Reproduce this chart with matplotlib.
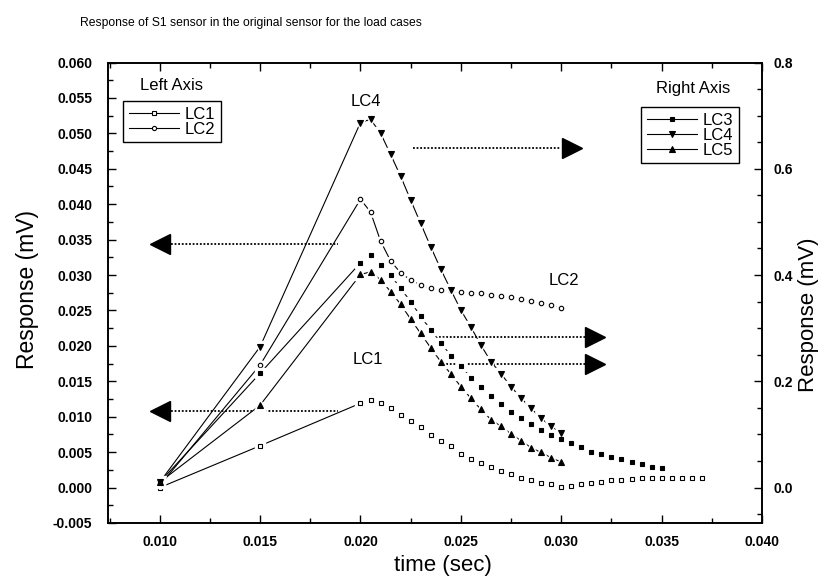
import matplotlib
matplotlib.use("Agg")
import matplotlib.pyplot as plt
from matplotlib.lines import Line2D
from matplotlib.ticker import MultipleLocator, FixedLocator

plt.rcParams['font.family'] = ['Liberation Sans', 'DejaVu Sans']

# ---------------- data ----------------
t_lc1 = [0.010, 0.015, 0.020, 0.0205, 0.021, 0.0215, 0.022, 0.0225, 0.023, 0.0235, 0.024, 0.0245,
         0.025, 0.0255, 0.026, 0.0265, 0.027, 0.0275, 0.028, 0.0285, 0.029, 0.0295, 0.030,
         0.0305, 0.031, 0.0315, 0.032, 0.0325, 0.033, 0.0335, 0.034, 0.0345, 0.035, 0.0355,
         0.036, 0.0365, 0.037]
lc1 = [0.0000, 0.0059, 0.0119, 0.0124, 0.0120, 0.0112, 0.0103, 0.0094, 0.0086, 0.0074, 0.0066,
       0.0058, 0.0048, 0.0040, 0.0034, 0.0029, 0.0024, 0.0019, 0.0014, 0.0011, 0.0007, 0.0005,
       0.0001, 0.0002, 0.0005, 0.0007, 0.0008, 0.0010, 0.0011, 0.0012, 0.0013, 0.0013, 0.0014,
       0.0014, 0.0014, 0.0014, 0.0014]

t_030 = [0.010, 0.015, 0.020, 0.0205, 0.021, 0.0215, 0.022, 0.0225, 0.023, 0.0235, 0.024, 0.0245,
         0.025, 0.0255, 0.026, 0.0265, 0.027, 0.0275, 0.028, 0.0285, 0.029, 0.0295, 0.030]
lc2 = [0.0003, 0.0173, 0.0407, 0.0389, 0.0348, 0.0320, 0.0303, 0.0293, 0.0286, 0.0281, 0.0279,
       0.0277, 0.0276, 0.0275, 0.0274, 0.0272, 0.0270, 0.0269, 0.0266, 0.0263, 0.0260, 0.0258,
       0.0253]

t_lc3 = [0.010, 0.015, 0.020, 0.0205, 0.021, 0.0215, 0.022, 0.0225, 0.023, 0.0235, 0.024, 0.0245,
         0.025, 0.0255, 0.026, 0.0265, 0.027, 0.0275, 0.028, 0.0285, 0.029, 0.0295, 0.030,
         0.0305, 0.031, 0.0315, 0.032, 0.0325, 0.033, 0.0335, 0.034, 0.0345, 0.035]
lc3 = [0.010, 0.215, 0.423, 0.438, 0.419, 0.400, 0.375, 0.350, 0.322, 0.297, 0.273, 0.248, 0.229,
       0.207, 0.189, 0.172, 0.157, 0.143, 0.130, 0.120, 0.108, 0.099, 0.091, 0.083, 0.076, 0.067,
       0.063, 0.058, 0.053, 0.048, 0.044, 0.039, 0.036]
lc4 = [0.010, 0.265, 0.687, 0.693, 0.667, 0.627, 0.586, 0.541, 0.497, 0.453, 0.411, 0.372, 0.334,
       0.302, 0.268, 0.237, 0.214, 0.190, 0.168, 0.149, 0.130, 0.116, 0.102]
lc5 = [0.010, 0.155, 0.401, 0.406, 0.391, 0.369, 0.345, 0.317, 0.290, 0.263, 0.237, 0.214, 0.190,
       0.168, 0.147, 0.128, 0.115, 0.101, 0.088, 0.075, 0.066, 0.056, 0.048]

x_ticks = [0.010, 0.015, 0.020, 0.025, 0.030, 0.035, 0.040]
x_ticklabels = ["0.010", "0.015", "0.020", "0.025", "0.030", "0.035", "0.040"]
left_ticks = [-0.005, 0.000, 0.005, 0.010, 0.015, 0.020, 0.025, 0.030, 0.035, 0.040, 0.045,
              0.050, 0.055, 0.060]
right_ticks = [0.0, 0.2, 0.4, 0.6, 0.8]

# arrow levels (left axis units for the left-pointing ones, right axis units for the others)
left_arrows_y = [0.0344, 0.0108]
right_arrows_y = [0.640, 0.283, 0.2325]

# ---------------- figure ----------------
W, H = 825, 580
fig = plt.figure(figsize=(W / 100, H / 100), dpi=100)
L, R, T, B = 107.5, 762.0, 62.5, 523.0
ax = fig.add_axes([L / W, 1 - B / H, (R - L) / W, (B - T) / H])
ax2 = ax.twinx()

ax.set_xlim(0.0074, 0.040)
ax.set_ylim(-0.005, 0.060)
ax2.set_ylim(-0.0667, 0.8)


def series(a, x, y, marker, ms, filled, lw=0.8):
    a.plot(x, y, '-', color='black', lw=lw, zorder=2)
    a.plot(x, y, ls='none', marker=marker, ms=ms + 3.5, mfc='white', mec='white', zorder=3)
    a.plot(x, y, ls='none', marker=marker, ms=ms, mfc='black' if filled else 'white',
           mec='black', mew=0.8, zorder=4)


series(ax, t_lc1, lc1, 's', 3.2, False)
series(ax, t_030, lc2, 'o', 3.2, False)
series(ax2, t_lc3, lc3, 's', 3.0, True)
series(ax2, t_030, lc4, 'v', 5.0, True)
series(ax2, t_030, lc5, '^', 5.0, True)

# dotted arrows
dot = (0, (1, 1))
for yv in left_arrows_y:
    ax.plot([0.01054, 0.0189], [yv, yv], ls=dot, color='black', lw=1.3, zorder=1)
    ax.plot([0.0100], [yv], marker='<', ms=15, color='black', ls='none', zorder=5)
ax2.plot([0.02262, 0.0300], [right_arrows_y[0]] * 2, ls=dot, color='black', lw=1.3, zorder=1)
ax2.plot([0.03055], [right_arrows_y[0]], marker='>', ms=15, color='black', ls='none', zorder=5)
for yv in right_arrows_y[1:]:
    ax2.plot([0.0239, 0.0312], [yv, yv], ls=dot, color='black', lw=1.3, zorder=1)
    ax2.plot([0.03168], [yv], marker='>', ms=15, color='black', ls='none', zorder=5)

# ticks
tick_font = dict(fontsize=10, fontweight='bold')
ax.xaxis.set_major_locator(FixedLocator(x_ticks))
ax.set_xticklabels(x_ticklabels, **tick_font)
ax.xaxis.set_minor_locator(MultipleLocator(0.0025))
ax.yaxis.set_major_locator(FixedLocator(left_ticks))
ax.set_yticklabels([f"{v:.3f}" for v in left_ticks], **tick_font)
ax.yaxis.set_minor_locator(MultipleLocator(0.0025))
ax2.yaxis.set_major_locator(FixedLocator(right_ticks))
ax2.set_yticklabels([f"{v:.1f}" for v in right_ticks], **tick_font)
ax2.yaxis.set_minor_locator(MultipleLocator(0.05))

ax.tick_params(axis='x', which='both', direction='in', top=True, pad=9)
ax.tick_params(axis='y', which='both', direction='in', right=False, pad=11)
ax2.tick_params(axis='y', which='both', direction='in', pad=8)
for a in (ax, ax2):
    a.tick_params(which='major', length=6, width=1.0)
    a.tick_params(which='minor', length=3.5, width=1.0)
    for s in a.spines.values():
        s.set_linewidth(1.2)

# labels
ax.set_ylabel("Response (mV)", fontsize=16.5)
ax.yaxis.set_label_coords(-0.1215, 0.506)
ax2.set_ylabel("Response (mV)", fontsize=16)
ax2.yaxis.set_label_coords(1.0715, 0.452)
ax.set_xlabel("time (sec)", fontsize=16)
ax.xaxis.set_label_coords(0.5126, -0.093)
ax.xaxis.label.set_va('center')
ax.yaxis.label.set_va('center')
ax2.yaxis.label.set_va('center')

fig.text(80 / W, 1 - 23 / H, "Response of S1 sensor in the original sensor for the load cases",
         fontsize=8.7, ha='left', va='center')

ax.text(0.098, 0.951, "Left Axis", transform=ax.transAxes, fontsize=12, ha='center', va='center')
ax.text(0.895, 0.944, "Right Axis", transform=ax.transAxes, fontsize=12, ha='center', va='center')
ax.text(0.02029, 0.0545, "LC4", fontsize=12, ha='center', va='center')
ax.text(0.03012, 0.0292, "LC2", fontsize=12, ha='center', va='center')
ax.text(0.02037, 0.0181, "LC1", fontsize=12, ha='center', va='center')


# legends
def h(marker, ms, filled):
    return Line2D([], [], color='black', lw=0.8, marker=marker, ms=ms,
                  mfc='black' if filled else 'white', mec='black', mew=0.8)


leg_kw = dict(borderaxespad=0, fontsize=12, handlelength=3.0, handletextpad=0.35,
              labelspacing=0.0, borderpad=0.35, fancybox=False, edgecolor='black', framealpha=1)
leg1 = ax2.legend([h('s', 3, False), h('o', 3, False)], ["LC1", "LC2"],
                  loc='upper left', bbox_to_anchor=(0.024, 0.917), **leg_kw)
leg1.get_frame().set_linewidth(1.0)
ax2.add_artist(leg1)
leg2 = ax2.legend([h('s', 3, True), h('v', 4, True), h('^', 4, True)], ["LC3", "LC4", "LC5"],
                  loc='upper right', bbox_to_anchor=(0.965, 0.904), **leg_kw)
leg2.get_frame().set_linewidth(1.0)

fig.savefig("out.png", dpi=100)
